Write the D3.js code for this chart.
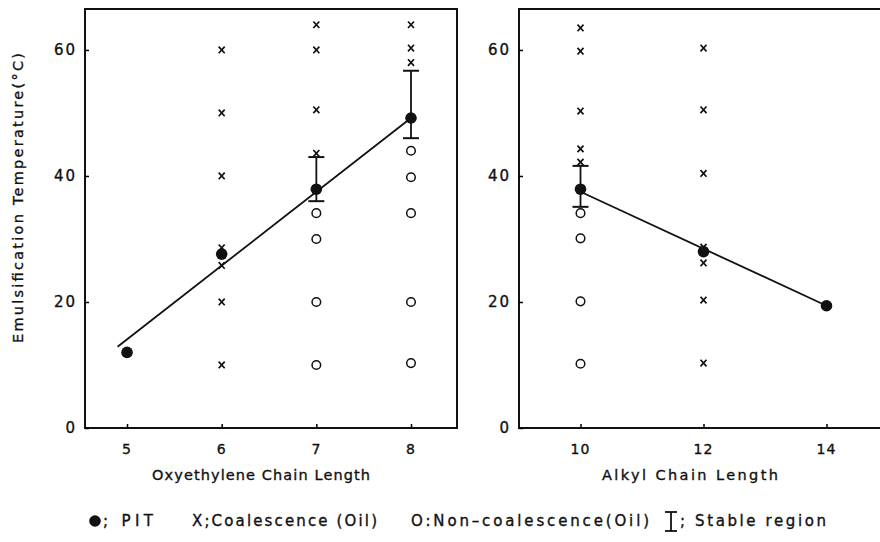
<!DOCTYPE html>
<html>
<head>
<meta charset="utf-8">
<title>Emulsification temperature</title>
<script src="https://d3js.org/d3.v7.min.js"></script>
<style>
  body { margin: 0; background: #fff; }
  text { font-family: "DejaVu Sans", sans-serif; fill: #111; stroke: #111; stroke-width: 0.35px; }
</style>
</head>
<body>
<svg width="880" height="542"></svg>
<script>
// ---- data ----
var yTicks = [0, 20, 40, 60];

// left panel: oxyethylene chain length
var oxyTicks = [5, 6, 7, 8];
var pitOxyX = [5, 6, 7, 8];
var pitOxyY = [12, 27.6, 37.9, 49.2];
var fitOxy = [[4.9, 12.9], [8, 49.2]];
var coalOxy = [
  [6, [60, 50, 40, 28.6, 25.8, 20, 10]],
  [7, [64, 60, 50.5, 43.6]],
  [8, [64, 60.3, 58]]
];
var nonCoalOxy = [
  [7, [34.1, 30, 20, 10]],
  [8, [44, 39.8, 34.1, 20, 10.3]]
];
var stableOxy = [[7, 36, 43], [8, 46, 56.7]];

// right panel: alkyl chain length
var alkylTicks = [10, 12, 14];
var pitAlkylX = [10, 12, 14];
var pitAlkylY = [37.9, 28, 19.4];
var fitAlkyl = [[10, 37.5], [14, 19.4]];
var coalAlkyl = [
  [10, [63.5, 59.8, 50.3, 44.3, 42.2]],
  [12, [60.3, 50.5, 40.4, 28.7, 26.2, 20.3, 10.3]]
];
var nonCoalAlkyl = [
  [10, [34.1, 30.1, 20.1, 10.2]]
];
var stableAlkyl = [[10, 35.1, 41.6]];

var legendLabels = ["; PIT", "X;Coalescence (Oil)", "O:Non\u2013coalescence(Oil)", "; Stable region"];

// ---- drawing ----
var svg = d3.select("svg");

var y = d3.scaleLinear().domain([0, 66.5]).range([428, 9]);

function panel(x, ticks, pitX, pitY, fit, coal, nonCoal, stable, title, titleX, titleLen) {
  var g = svg.append("g");
  var x0 = x.range()[0], x1 = x.range()[1];

  // frame
  g.append("rect")
    .attr("x", x0).attr("y", y(66.5))
    .attr("width", x1 - x0).attr("height", y(0) - y(66.5))
    .attr("fill", "none").attr("stroke", "#111").attr("stroke-width", 2);

  // y axis
  g.append("g")
    .attr("transform", "translate(" + x0 + ",0)")
    .call(d3.axisRight(y).tickValues(yTicks).tickSize(4).tickFormat(""))
    .call(function(a) { a.select(".domain").remove(); a.selectAll("line").attr("stroke-width", 1.5); });
  g.selectAll(".ylab").data(yTicks).enter().append("text")
    .attr("x", x0 - 8).attr("y", function(d) { return y(d); })
    .attr("dy", "0.36em").attr("text-anchor", "end")
    .style("font-size", "15px").style("letter-spacing", "2px")
    .text(function(d) { return d; });

  // x axis
  g.append("g")
    .attr("transform", "translate(0," + y(0) + ")")
    .call(d3.axisTop(x).tickValues(ticks).tickSize(4).tickFormat(""))
    .call(function(a) { a.select(".domain").remove(); a.selectAll("line").attr("stroke-width", 1.5); });
  g.selectAll(".xlab").data(ticks).enter().append("text")
    .attr("x", function(d) { return x(d); }).attr("y", 449)
    .attr("dy", "0.36em").attr("text-anchor", "middle")
    .style("font-size", "14px").style("letter-spacing", "1px")
    .text(function(d) { return d; });

  g.append("text")
    .attr("x", titleX - titleLen / 2).attr("y", 475).attr("dy", "0.36em")
    .attr("textLength", titleLen).attr("lengthAdjust", "spacing")
    .style("font-size", "14.5px")
    .text(title);

  // fitted line
  g.append("path")
    .attr("d", d3.line().x(function(d) { return x(d[0]); }).y(function(d) { return y(d[1]); })(fit))
    .attr("fill", "none").attr("stroke", "#111").attr("stroke-width", 1.8);

  // stable region bars
  stable.forEach(function(s) {
    var cx = x(s[0]);
    g.append("line").attr("x1", cx).attr("x2", cx).attr("y1", y(s[1])).attr("y2", y(s[2]))
      .attr("stroke", "#111").attr("stroke-width", 1.8);
    [s[1], s[2]].forEach(function(v) {
      g.append("line").attr("x1", cx - 8).attr("x2", cx + 8).attr("y1", y(v)).attr("y2", y(v))
        .attr("stroke", "#111").attr("stroke-width", 2);
    });
  });

  // non-coalescence (open circles)
  nonCoal.forEach(function(c) {
    g.selectAll(null).data(c[1]).enter().append("circle")
      .attr("cx", x(c[0])).attr("cy", function(d) { return y(d); }).attr("r", 4.3)
      .attr("fill", "#fff").attr("stroke", "#111").attr("stroke-width", 1.5);
  });

  // coalescence (x marks)
  coal.forEach(function(c) {
    g.selectAll(null).data(c[1]).enter().append("path")
      .attr("transform", function(d) { return "translate(" + x(c[0]) + "," + y(d) + ")"; })
      .attr("d", "M-3,-3.3L3,3.3M-3,3.3L3,-3.3")
      .attr("stroke", "#111").attr("stroke-width", 1.7);
  });

  // PIT (filled circles)
  g.selectAll(null).data(pitX).enter().append("circle")
    .attr("cx", function(d) { return x(d); })
    .attr("cy", function(d, i) { return y(pitY[i]); })
    .attr("r", 5.8).attr("fill", "#111");
}

var xOxy = d3.scaleLinear().domain([4.556, 8.486]).range([85, 457]);
var xAlkyl = d3.scaleLinear().domain([9, 15]).range([519, 888]);

panel(xOxy, oxyTicks, pitOxyX, pitOxyY, fitOxy, coalOxy, nonCoalOxy, stableOxy,
  "Oxyethylene Chain Length", 261, 218);
panel(xAlkyl, alkylTicks, pitAlkylX, pitAlkylY, fitAlkyl, coalAlkyl, nonCoalAlkyl, stableAlkyl,
  "Alkyl Chain Length", 690, 176);

// y axis title
svg.append("text")
  .attr("transform", "translate(18,198) rotate(-90)")
  .attr("x", -145).attr("dy", "0.36em")
  .attr("textLength", 290).attr("lengthAdjust", "spacing")
  .style("font-size", "14.5px")
  .text("Emulsification Temperature(\u00b0C)");

// legend
var lg = svg.append("g").attr("transform", "translate(0,521)");
var legendX = [103, 192, 411, 680];
var legendW = [50, 185, 238, 146];
lg.append("circle").attr("cx", 95).attr("cy", 0).attr("r", 5.8).attr("fill", "#111");
lg.append("line").attr("x1", 671).attr("x2", 671).attr("y1", -9).attr("y2", 10)
  .attr("stroke", "#111").attr("stroke-width", 1.8);
lg.append("line").attr("x1", 665).attr("x2", 677).attr("y1", -9).attr("y2", -9)
  .attr("stroke", "#111").attr("stroke-width", 1.8);
lg.append("line").attr("x1", 665).attr("x2", 677).attr("y1", 10).attr("y2", 10)
  .attr("stroke", "#111").attr("stroke-width", 1.8);
lg.selectAll("text").data(legendLabels).enter().append("text")
  .attr("x", function(d, i) { return legendX[i]; }).attr("y", 0).attr("dy", "0.36em")
  .attr("textLength", function(d, i) { return legendW[i]; }).attr("lengthAdjust", "spacing")
  .style("font-size", "15px")
  .text(function(d) { return d; });
</script>
</body>
</html>
